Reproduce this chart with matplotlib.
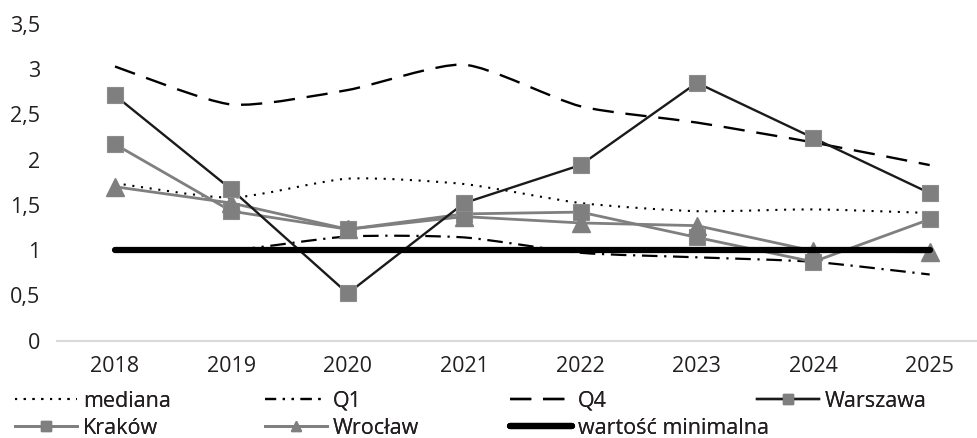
import numpy as np
import matplotlib.pyplot as plt
from matplotlib.path import Path
from matplotlib.patches import PathPatch
from matplotlib.lines import Line2D

plt.rcParams['font.family'] = ['Open Sans', 'DejaVu Sans']

years = ['2018', '2019', '2020', '2021', '2022', '2023', '2024', '2025']
mediana = [1.74, 1.58, 1.79, 1.73, 1.52, 1.43, 1.45, 1.41]
q1 = [1.0, 1.0, 1.15, 1.14, 0.97, 0.92, 0.87, 0.73]
q4 = [3.03, 2.61, 2.77, 3.05, 2.59, 2.41, 2.19, 1.94]
warszawa = [2.71, 1.67, 0.52, 1.52, 1.94, 2.85, 2.24, 1.63]
krakow = [2.17, 1.43, 1.23, 1.40, 1.42, 1.14, 0.87, 1.34]
wroclaw = [1.70, 1.52, 1.23, 1.37, 1.30, 1.27, 0.99, 0.98]
minimum = [1.0] * 8

TEXT = '#231f20'
GREY = '#7f7f7f'
FS = 15.5


def smooth_path(xs, ys, k=9.0):
    # cubic bezier through the points, a softened "smoothed line"
    pts = np.column_stack([xs, ys]).astype(float)
    verts = [pts[0]]
    codes = [Path.MOVETO]
    n = len(pts)
    for i in range(n - 1):
        p0 = pts[max(i - 1, 0)]
        p1 = pts[i]
        p2 = pts[i + 1]
        p3 = pts[min(i + 2, n - 1)]
        c1 = p1 + (p2 - p0) / k
        c2 = p2 - (p3 - p1) / k
        verts += [c1, c2, p2]
        codes += [Path.CURVE4] * 3
    return Path(verts, codes)


fig = plt.figure(figsize=(9.78, 4.38), dpi=100)
ax = fig.add_axes([0.0581, 0.2226, 0.952, 0.7226])
x = np.arange(len(years))

styles = {
    'mediana': dict(lw=1.5, ls=(0, (1, 3.2))),
    'Q1': dict(lw=1.6, ls=(0, (7, 3, 1, 3))),
    'Q4': dict(lw=1.7, ls=(0, (9, 5))),
}
for vals, name in [(mediana, 'mediana'), (q1, 'Q1'), (q4, 'Q4')]:
    st = styles[name]
    ax.add_patch(PathPatch(smooth_path(x, vals), fill=False, edgecolor='black',
                           linewidth=st['lw'], linestyle=st['ls'], zorder=2))

ax.plot(x, warszawa, color='#1a1a1a', lw=1.7, marker='s', ms=12,
        mfc=GREY, mec='#8c8c8c', mew=0.8, zorder=4)
ax.plot(x, krakow, color=GREY, lw=2.0, marker='s', ms=12,
        mfc=GREY, mec='#8c8c8c', mew=0.8, zorder=3)
ax.plot(x, wroclaw, color=GREY, lw=2.0, marker='^', ms=13,
        mfc=GREY, mec=GREY, zorder=3)
ax.plot(x, minimum, color='black', lw=4.5, solid_capstyle='round', zorder=5)

ax.set_xlim(-0.5, 7.5)
ax.set_ylim(0, 3.5)
ax.set_xticks(x)
ax.set_xticklabels(years)
yt = np.arange(0, 3.51, 0.5)
ax.set_yticks(yt)
ax.set_yticklabels([('%g' % v).replace('.', ',') for v in yt])
ax.tick_params(length=0, labelsize=FS, colors=TEXT)
ax.tick_params(axis='x', pad=11)
ax.tick_params(axis='y', pad=12)
for s in ['top', 'right', 'left']:
    ax.spines[s].set_visible(False)
ax.spines['bottom'].set_color('#d9d9d9')
ax.spines['bottom'].set_linewidth(1.5)
ax.patch.set_visible(False)

# legend handles
h_med = Line2D([], [], color='black', lw=1.5, ls=(0, (1, 3.2)))
h_q1 = Line2D([], [], color='black', lw=1.6, ls=(0, (5, 3, 1, 3, 1, 3)))
h_q4 = Line2D([], [], color='black', lw=1.7, ls=(0, (9, 5)))
h_war = Line2D([], [], color='#1a1a1a', lw=1.7, marker='s', ms=7, mfc=GREY, mec=GREY)
h_kra = Line2D([], [], color=GREY, lw=2.0, marker='s', ms=7, mfc=GREY, mec=GREY)
h_wro = Line2D([], [], color=GREY, lw=2.0, marker='^', ms=7, mfc=GREY, mec=GREY)
h_min = Line2D([], [], color='black', lw=4.5, solid_capstyle='round')

columns = [
    ([h_med, h_kra], ['mediana', 'Kraków'], 15),
    ([h_q1, h_wro], ['Q1', 'Wrocław'], 265),
    ([h_q4, h_min], ['Q4', 'wartość minimalna'], 510),
    ([h_war], ['Warszawa'], 757),
]
for handles, labels, px in columns:
    leg = fig.legend(handles, labels, loc='upper left',
                     bbox_to_anchor=(px / 978, 1 - 391 / 438),
                     frameon=False, fontsize=FS, handlelength=2.9,
                     handletextpad=0.25, labelspacing=0.28, borderpad=0,
                     borderaxespad=0, labelcolor=TEXT)
    fig.add_artist(leg)

fig.savefig('out.png', dpi=100)
